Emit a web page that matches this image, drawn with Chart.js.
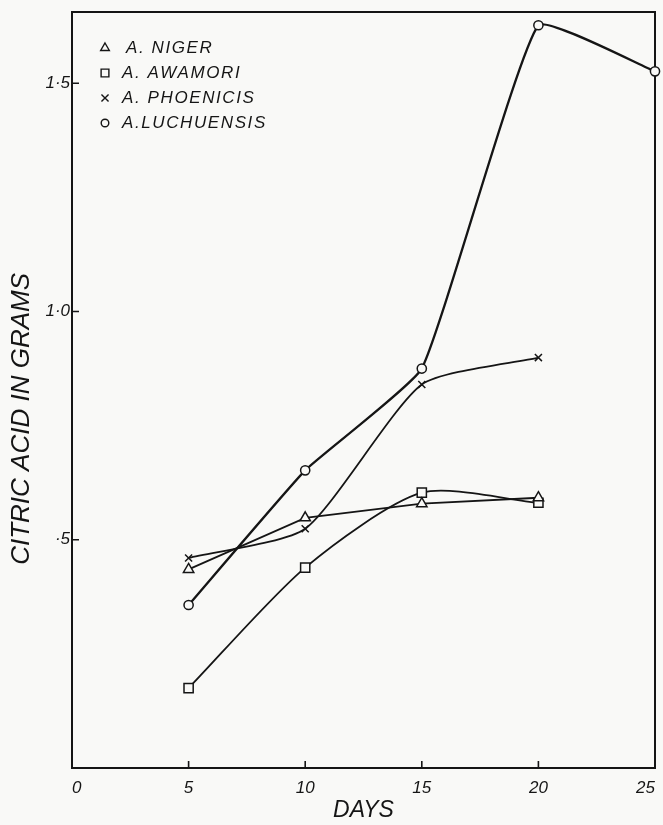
<!DOCTYPE html>
<html>
<head>
<meta charset="utf-8">
<script src="https://cdn.jsdelivr.net/npm/chart.js@4"></script>
<style>
  html, body { margin: 0; padding: 0; background: #f9f9f7; }
  #wrap { width: 663px; height: 825px; position: relative; }
</style>
</head>
<body>
<div id="wrap"><canvas id="c" width="663" height="825"></canvas></div>
<script>
// ---- data ----
const days = [5, 10, 15, 20];
const daysLuchuensis = [5, 10, 15, 20, 25];
const seriesNames = ['A. NIGER', 'A. AWAMORI', 'A. PHOENICIS', 'A.LUCHUENSIS'];
const niger = [0.435, 0.548, 0.579, 0.592];
const awamori = [0.175, 0.439, 0.603, 0.581];
const phoenicis = [0.460, 0.524, 0.840, 0.899];
const luchuensis = [0.357, 0.652, 0.875, 1.627, 1.526];
const xTickValues = [0, 5, 10, 15, 20, 25];
const xTickLabels = ['0', '5', '10', '15', '20', '25'];
const yTickValues = [0.5, 1.0, 1.5];
const yTickLabels = ['·5', '1·0', '1·5'];
const xTitle = 'DAYS';
const yTitle = 'CITRIC ACID IN GRAMS';

const INK = '#151515';
const PAPER = '#f9f9f7';

function pts(xs, ys) { return xs.map((x, i) => ({ x: x, y: ys[i] })); }

function ds(label, xs, ys, style, radius, tension, width) {
  return {
    label: label,
    data: pts(xs, ys),
    borderColor: INK,
    backgroundColor: PAPER,
    borderWidth: width,
    pointStyle: style,
    pointRadius: radius,
    pointHoverRadius: radius,
    pointBorderWidth: 1.5,
    pointBorderColor: INK,
    pointBackgroundColor: PAPER,
    tension: tension,
    clip: false,
    fill: false
  };
}

const datasets = [
  ds(seriesNames[0], days, niger, 'triangle', 6, 0, 1.8),
  ds(seriesNames[1], days, awamori, 'rect', 6.5, 0.25, 1.8),
  ds(seriesNames[2], days, phoenicis, 'crossRot', 5, 0.2, 1.8),
  ds(seriesNames[3], daysLuchuensis, luchuensis, 'circle', 4.6, 0.12, 2.3)
];

const handFont = "'Liberation Sans', 'DejaVu Sans', sans-serif";

// frame + inward ticks + legend drawn via plugin using chart scales
const decor = {
  id: 'decor',
  beforeDraw(chart) {
    const ctx = chart.ctx;
    ctx.save();
    ctx.fillStyle = PAPER;
    ctx.fillRect(0, 0, chart.width, chart.height);
    ctx.restore();
  },
  beforeDatasetsDraw(chart) {
    const ctx = chart.ctx, a = chart.chartArea;
    const xs = chart.scales.x, ys = chart.scales.y;
    ctx.save();
    ctx.strokeStyle = INK;
    ctx.lineWidth = 2;
    ctx.strokeRect(a.left, a.top, a.right - a.left, a.bottom - a.top);
    ctx.lineWidth = 1.6;
    ctx.beginPath();
    xTickValues.forEach(v => {
      const px = xs.getPixelForValue(v);
      if (px > a.left + 2 && px < a.right - 2) {
        ctx.moveTo(px, a.bottom);
        ctx.lineTo(px, a.bottom - 7);
      }
    });
    yTickValues.forEach(v => {
      const py = ys.getPixelForValue(v);
      ctx.moveTo(a.left, py);
      ctx.lineTo(a.left + 7, py);
    });
    ctx.stroke();
    ctx.restore();
  },
  afterDraw(chart) {
    const ctx = chart.ctx;
    const a = chart.chartArea;
    const x0 = a.left + 33, y0 = a.top + 36, dy = 25;
    ctx.save();
    chart.data.datasets.forEach((d, i) => {
      const y = y0 + i * dy;
      const opts = {
        pointStyle: d.pointStyle,
        radius: d.pointStyle === 'rect' ? 5.5 : (d.pointStyle === 'circle' ? 3.8 : 5),
        borderWidth: 1.4,
        rotation: 0
      };
      ctx.strokeStyle = INK;
      ctx.fillStyle = PAPER;
      ctx.lineWidth = 1.4;
      if (Chart.helpers && Chart.helpers.drawPoint) {
        Chart.helpers.drawPoint(ctx, opts, x0, y);
      }
      ctx.fillStyle = INK;
      ctx.font = "italic 17px " + handFont;
      try { ctx.letterSpacing = '1.6px'; } catch (e) {}
      ctx.textAlign = 'left';
      ctx.textBaseline = 'middle';
      ctx.fillText(d.label, x0 + (i === 0 ? 21 : 17), y);
    });
    ctx.restore();
  }
};

new Chart(document.getElementById('c'), {
  type: 'line',
  data: { datasets: datasets },
  plugins: [decor],
  options: {
    responsive: false,
    animation: false,
    devicePixelRatio: 1,
    layout: { padding: { top: 12, right: 7, bottom: 0, left: 0 } },
    plugins: {
      legend: { display: false },
      tooltip: { enabled: false },
      title: { display: false }
    },
    scales: {
      x: {
        type: 'linear',
        min: 0,
        max: 25,
        border: { display: false },
        grid: { display: false, drawTicks: false },
        afterBuildTicks(scale) { scale.ticks = xTickValues.map(v => ({ value: v })); },
        afterFit(scale) { scale.height = 57; scale.paddingRight = 0; scale.paddingLeft = 0; },
        ticks: {
          color: INK,
          padding: 10,
          maxRotation: 0,
          align: 'inner',
          font: { family: handFont, size: 17, style: 'italic' },
          callback(v) { const i = xTickValues.indexOf(v); return i >= 0 ? xTickLabels[i] : ''; }
        },
        title: {
          display: true,
          text: xTitle,
          color: INK,
          padding: { top: 0, bottom: 1 },
          font: { family: handFont, size: 23, style: 'italic' }
        }
      },
      y: {
        type: 'linear',
        min: 0,
        max: 1.656,
        border: { display: false },
        grid: { display: false, drawTicks: false },
        afterBuildTicks(scale) { scale.ticks = yTickValues.map(v => ({ value: v })); },
        afterFit(scale) { scale.width = 72; scale.paddingTop = 0; scale.paddingBottom = 0; },
        ticks: {
          color: INK,
          padding: 2,
          font: { family: handFont, size: 17, style: 'italic' },
          callback(v) {
            const i = yTickValues.findIndex(t => Math.abs(t - v) < 1e-6);
            return i >= 0 ? yTickLabels[i] : '';
          }
        },
        title: {
          display: true,
          text: yTitle + '        ',
          color: INK,
          padding: { top: 6, bottom: 0 },
          font: { family: handFont, size: 26, style: 'italic' }
        }
      }
    }
  }
});
</script>
</body>
</html>
